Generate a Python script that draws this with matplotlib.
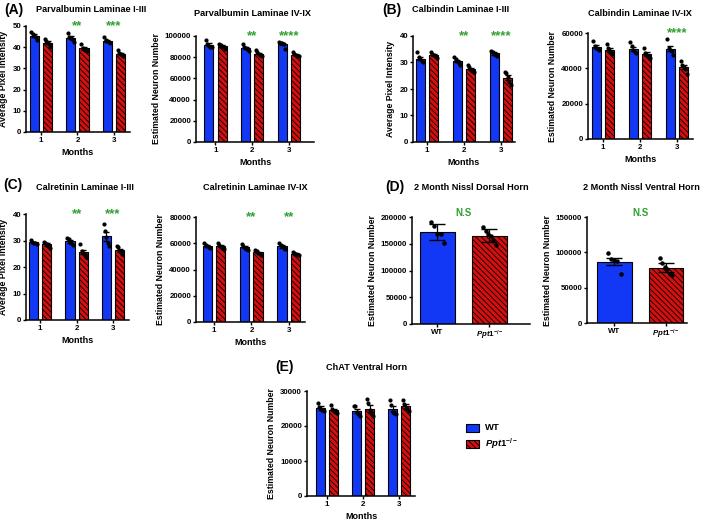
import numpy as np
import matplotlib
matplotlib.use("Agg")
import matplotlib.pyplot as plt
from matplotlib.patches import Rectangle

plt.rcParams['font.family'] = ['Liberation Sans', 'DejaVu Sans']
plt.rcParams['font.weight'] = 'bold'
plt.rcParams['axes.labelweight'] = 'bold'
plt.rcParams['mathtext.fontset'] = 'custom'
plt.rcParams['mathtext.rm'] = 'Liberation Sans:bold'
plt.rcParams['mathtext.it'] = 'Liberation Sans:italic:bold'
plt.rcParams['hatch.color'] = '#1a0000'
plt.rcParams['hatch.linewidth'] = 0.6

# --- DATA ---
months = [1, 2, 3]
KO_LABEL = r"$\mathit{Ppt1}^{-/-}$"

# (A) Parvalbumin Laminae I-III
pv13_wt = [45.5, 44.5, 43.0]
pv13_ko = [42.1, 39.4, 37.0]
pv13_wt_err = [0.7, 0.7, 0.5]
pv13_ko_err = [0.7, 0.6, 0.5]
pv13_wt_pts = [[47.3, 46.0, 45.5, 45.0, 43.5], [46.5, 45.0, 44.5, 44.0, 42.5], [44.6, 43.3, 43.0, 42.5, 41.8]]
pv13_ko_pts = [[44.0, 42.8, 42.0, 41.5, 40.2], [41.5, 39.5, 39.0, 38.5, 38.3], [38.7, 37.4, 36.8, 36.5, 35.8]]
pv13_stars = ["", "**", "***"]

# (A) Parvalbumin Laminae IV-IX
pv49_wt = [91800, 88800, 92300]
pv49_ko = [90400, 83400, 82400]
pv49_wt_err = [1200, 1200, 1100]
pv49_ko_err = [800, 800, 600]
pv49_wt_pts = [[96000, 92500, 91000, 90000, 89500], [92500, 90000, 88500, 87500, 85500], [94500, 93500, 93000, 92500, 88000]]
pv49_ko_pts = [[92800, 91500, 90000, 89500, 88000], [86500, 84500, 83000, 82000, 81000], [84500, 83000, 82000, 81500, 81000]]
pv49_stars = ["", "**", "****"]

# (B) Calbindin Laminae I-III
cb13_wt = [31.5, 30.5, 33.4]
cb13_ko = [32.8, 27.5, 24.2]
cb13_wt_err = [0.7, 0.5, 0.4]
cb13_ko_err = [0.4, 0.5, 0.9]
cb13_wt_pts = [[33.8, 32.0, 31.5, 30.5, 30.0], [32.0, 31.3, 30.5, 29.8, 29.0], [34.4, 34.0, 33.3, 32.9, 32.5]]
cb13_ko_pts = [[33.8, 33.2, 32.8, 32.3, 31.8], [29.0, 28.3, 27.3, 26.8, 26.3], [26.5, 26.0, 24.5, 22.7, 21.5]]
cb13_stars = ["", "**", "****"]

# (B) Calbindin Laminae IV-IX
cb49_wt = [52200, 51100, 51200]
cb49_ko = [50300, 48100, 40700]
cb49_wt_err = [900, 1100, 1500]
cb49_ko_err = [1000, 1000, 1200]
cb49_wt_pts = [[55300, 52800, 51500, 51000, 50500], [54700, 52500, 50600, 49000, 48700], [56600, 51500, 50600, 49600, 47500]]
cb49_ko_pts = [[53500, 51500, 49600, 48700, 48000], [51500, 48700, 47700, 46800, 46000], [44300, 42000, 40700, 39500, 37000]]
cb49_stars = ["", "", "****"]

# (C) Calretinin Laminae I-III
cr13_wt = [29.3, 29.7, 31.6]
cr13_ko = [28.5, 25.8, 26.3]
cr13_wt_err = [0.3, 0.5, 1.6]
cr13_ko_err = [0.4, 0.8, 0.5]
cr13_wt_pts = [[30.3, 29.6, 29.2, 29.0, 28.6], [31.0, 30.7, 29.5, 28.9, 28.4], [36.2, 33.5, 31.5, 29.0, 27.8]]
cr13_ko_pts = [[29.5, 29.1, 28.5, 28.0, 27.2], [28.8, 26.2, 25.3, 24.7, 23.8], [27.8, 27.4, 26.0, 25.5, 25.0]]
cr13_stars = ["", "**", "***"]

# (C) Calretinin Laminae IV-IX
cr49_wt = [58200, 56900, 57600]
cr49_ko = [57600, 53000, 51800]
cr49_wt_err = [700, 800, 1000]
cr49_ko_err = [800, 700, 500]
cr49_wt_pts = [[60200, 59000, 58000, 57200, 56500], [59400, 58000, 56400, 55600, 55000], [60100, 58600, 57600, 56400, 55300]]
cr49_ko_pts = [[60000, 59000, 57000, 56500, 55700], [55100, 54300, 52600, 51800, 51200], [53300, 52600, 51500, 51000, 50700]]
cr49_stars = ["", "**", "**"]

# (D) 2 Month Nissl
groups = ["WT", KO_LABEL]
nd_mean = [172000, 165000]
nd_err = [15000, 12500]
nd_pts = [[190500, 182500, 169000, 167500, 151000], [180500, 174000, 168000, 164000, 157000, 147500]]
nv_mean = [87000, 78500]
nv_err = [5000, 6000]
nv_pts = [[98500, 90500, 89500, 87500, 68800], [92500, 85500, 79000, 76000, 69000, 68500]]

# (E) ChAT Ventral Horn
ch_wt = [25200, 24300, 24900]
ch_ko = [24600, 25000, 25600]
ch_wt_err = [500, 600, 700]
ch_ko_err = [400, 900, 600]
ch_wt_pts = [[26700, 25400, 25000, 24500, 24300], [25700, 25700, 24000, 23500, 22800], [27400, 26000, 24100, 23600, 23300]]
ch_ko_pts = [[26000, 24800, 24400, 24100, 23800], [27700, 26500, 24600, 23600, 22900], [27500, 26300, 25200, 24800, 24300]]

BLUE = '#1238f5'
RED = '#d40f0f'
GREEN = '#2ea02e'
HATCH = '\\\\\\\\\\\\'
W, H = 709, 520

fig = plt.figure(figsize=(W / 100, H / 100), dpi=100)


def px_axes(x0, ytop, x1, ybot):
    return fig.add_axes([x0 / W, 1 - ybot / H, (x1 - x0) / W, (ybot - ytop) / H])


def ftext(x, y, s, size=6.6, ha='left', color='black'):
    fig.text(x / W, 1 - y / H, s, fontsize=size, fontweight='bold', ha=ha, va='center', color=color)


def style(ax, ylim, yticks, ylabel):
    ax.spines['top'].set_visible(False)
    ax.spines['right'].set_visible(False)
    ax.spines['left'].set_linewidth(1.1)
    ax.spines['bottom'].set_linewidth(1.1)
    ax.set_ylim(*ylim)
    ax.set_yticks(yticks)
    ax.tick_params(labelsize=5.7, width=1.0, length=2.5, pad=1)
    ax.set_ylabel(ylabel, fontsize=6.3, labelpad=3)


def jitter_x(n, center, spread):
    return center + np.linspace(-spread, spread, n)


def stars_text(ax, x, s, size=9.5):
    ax.annotate(s, xy=(x, 1), xycoords=('data', 'axes fraction'), xytext=(0, -2.5),
                textcoords='offset points', ha='center', va='baseline',
                fontsize=size, color=GREEN, fontweight='bold', annotation_clip=False)


def month_panel(ax, wt, ko, wt_err, ko_err, wt_pts, ko_pts, stars, xlim, ylim, yticks, ylabel):
    x = np.array(months, dtype=float)
    off, bw = 0.18, 0.25
    ax.bar(x - off, wt, bw, color=BLUE, edgecolor='black', linewidth=0.8, zorder=2)
    ax.bar(x + off, ko, bw, color=RED, edgecolor='black', linewidth=0.8, hatch=HATCH, zorder=2)
    ax.errorbar(x - off, wt, yerr=wt_err, fmt='none', ecolor='black', elinewidth=0.8, capsize=2, zorder=3)
    ax.errorbar(x + off, ko, yerr=ko_err, fmt='none', ecolor='black', elinewidth=0.8, capsize=2, zorder=3)
    for i in range(3):
        ax.scatter(jitter_x(len(wt_pts[i]), x[i] - off, 0.08), wt_pts[i], s=4, color='black', zorder=4)
        ax.scatter(jitter_x(len(ko_pts[i]), x[i] + off, 0.08), ko_pts[i], s=4, color='black', zorder=4)
        if stars[i]:
            stars_text(ax, x[i], stars[i])
    ax.set_xlim(*xlim)
    ax.set_xticks(months)
    style(ax, ylim, yticks, ylabel)
    ax.set_xlabel("Months", fontsize=6.5, labelpad=3)


def group_panel(ax, mean, err, pts, xlim, ylim, yticks):
    x = np.array([0.0, 1.0])
    ax.bar(x[0], mean[0], 0.67, color=BLUE, edgecolor='black', linewidth=0.8, zorder=2)
    ax.bar(x[1], mean[1], 0.67, color=RED, edgecolor='black', linewidth=0.8, hatch=HATCH, zorder=2)
    ax.errorbar(x, mean, yerr=err, fmt='none', ecolor='black', elinewidth=0.9, capsize=6, zorder=3)
    for i in range(2):
        ax.scatter(jitter_x(len(pts[i]), x[i], 0.12), pts[i], s=5, color='black', zorder=4)
    ax.text(0.5, 1.04, "N.S", transform=ax.get_xaxis_transform(), ha='center', va='center',
            fontsize=7, color=GREEN, fontweight='bold')
    ax.set_xlim(*xlim)
    ax.set_xticks(x)
    ax.set_xticklabels(groups)
    style(ax, ylim, yticks, "Estimated Neuron Number")


# --- (A) ---
ax = px_axes(26, 26, 130, 132)
month_panel(ax, pv13_wt, pv13_ko, pv13_wt_err, pv13_ko_err, pv13_wt_pts, pv13_ko_pts, pv13_stars,
            (0.59, 3.44), (0, 50), range(0, 51, 10), "Average Pixel Intensity")
ax = px_axes(196, 36, 314, 142)
month_panel(ax, pv49_wt, pv49_ko, pv49_wt_err, pv49_ko_err, pv49_wt_pts, pv49_ko_pts, pv49_stars,
            (0.47, 3.68), (0, 100000), range(0, 100001, 20000), "Estimated Neuron Number")

# --- (B) ---
ax = px_axes(413, 36, 515, 142)
month_panel(ax, cb13_wt, cb13_ko, cb13_wt_err, cb13_ko_err, cb13_wt_pts, cb13_ko_pts, cb13_stars,
            (0.62, 3.38), (0, 40), range(0, 41, 10), "Average Pixel Intensity")
ax = px_axes(588, 33, 693, 139)
month_panel(ax, cb49_wt, cb49_ko, cb49_wt_err, cb49_ko_err, cb49_wt_pts, cb49_ko_pts, cb49_stars,
            (0.6, 3.43), (0, 60000), range(0, 60001, 20000), "Estimated Neuron Number")

# --- (C) ---
ax = px_axes(26, 214, 129, 320)
month_panel(ax, cr13_wt, cr13_ko, cr13_wt_err, cr13_ko_err, cr13_wt_pts, cr13_ko_pts, cr13_stars,
            (0.61, 3.44), (0, 40), range(0, 41, 10), "Average Pixel Intensity")
ax = px_axes(196, 217, 305, 322)
month_panel(ax, cr49_wt, cr49_ko, cr49_wt_err, cr49_ko_err, cr49_wt_pts, cr49_ko_pts, cr49_stars,
            (0.52, 3.43), (0, 80000), range(0, 80001, 20000), "Estimated Neuron Number")

# --- (D) ---
ax = px_axes(412, 217, 530, 324)
group_panel(ax, nd_mean, nd_err, nd_pts, (-0.49, 1.78), (0, 200000), range(0, 200001, 50000))
ax = px_axes(587, 217, 687, 323)
group_panel(ax, nv_mean, nv_err, nv_pts, (-0.53, 1.41), (0, 150000), range(0, 150001, 50000))

# --- (E) ---
ax = px_axes(307, 391, 415, 496)
month_panel(ax, ch_wt, ch_ko, ch_wt_err, ch_ko_err, ch_wt_pts, ch_ko_pts, ["", "", ""],
            (0.44, 3.44), (0, 30000), range(0, 30001, 10000), "Estimated Neuron Number")

# --- titles and panel letters ---
ftext(4, 10, "(A)", size=10)
ftext(91, 10, "Parvalbumin Laminae I-III", ha='center')
ftext(252, 14, "Parvalbumin Laminae IV-IX", ha='center')
ftext(382, 10, "(B)", size=10)
ftext(461, 10, "Calbindin Laminae I-III", ha='center')
ftext(640, 14, "Calbindin Laminae IV-IX", ha='center')
ftext(3, 185, "(C)", size=10)
ftext(85, 187, "Calretinin Laminae I-III", ha='center')
ftext(255, 188, "Calretinin Laminae IV-IX", ha='center')
ftext(385, 187, "(D)", size=10)
ftext(471, 187, "2 Month Nissl Dorsal Horn", ha='center')
ftext(641, 188, "2 Month Nissl Ventral Horn", ha='center')
ftext(275, 367, "(E)", size=10)
ftext(367, 367, "ChAT Ventral Horn", ha='center')

# --- legend ---
legend_items = [(BLUE, None, "WT", 428), (RED, HATCH, KO_LABEL, 444)]
for color, hatch, label, yc in legend_items:
    rect = Rectangle((466 / W, 1 - (yc + 4) / H), 13 / W, 8 / H, transform=fig.transFigure,
                     facecolor=color, edgecolor='black', linewidth=0.8, hatch=hatch)
    fig.patches.append(rect)
    ftext(485, yc, label, size=6.8)

fig.savefig("out.png", dpi=100)
